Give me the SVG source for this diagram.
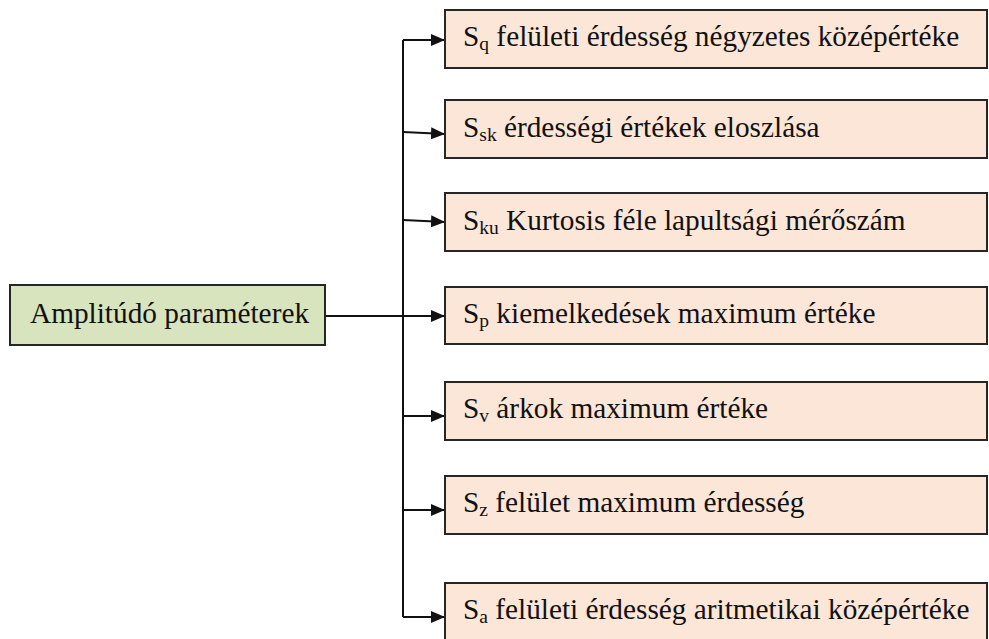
<svg xmlns="http://www.w3.org/2000/svg" width="989" height="639" viewBox="0 0 989 639">
  <style>
    .box { stroke: #262626; stroke-width: 2; }
    .root { fill: #D8E4BD; }
    .leaf { fill: #FBE6D8; }
    .lbl { font-family: "Liberation Serif", "Times New Roman", serif; font-size: 29.3px; fill: #111; }
    .sub { font-size: 19.5px; }
    .wire { fill: none; stroke: #111; stroke-width: 2; }
  </style>
  <defs>
    <marker id="arrow" viewBox="0 0 14 12" refX="14" refY="6" markerWidth="14" markerHeight="12" markerUnits="userSpaceOnUse" orient="auto">
      <path d="M0,0 L14,6 L0,12 Z" fill="#111"/>
    </marker>
  </defs>
  <rect width="989" height="639" fill="#fff"/>

  <!-- connectors -->
  <g id="connectors">
    <path class="wire" d="M403,40 V617"/>
    <path class="wire" d="M325,316 H445" marker-end="url(#arrow)"/>
    <path class="wire" d="M403,40 H445" marker-end="url(#arrow)"/>
    <path class="wire" d="M403,132 L445,134" marker-end="url(#arrow)"/>
    <path class="wire" d="M403,220 L445,222" marker-end="url(#arrow)"/>
    <path class="wire" d="M403,416 H445" marker-end="url(#arrow)"/>
    <path class="wire" d="M403,510 H445" marker-end="url(#arrow)"/>
    <path class="wire" d="M403,617 H445" marker-end="url(#arrow)"/>
  </g>

  <!-- root -->
  <g id="amplitudo">
    <rect class="box root" x="10" y="285" width="315" height="60"/>
    <text class="lbl" x="30" y="323">Amplitúdó paraméterek</text>
  </g>

  <!-- parameters -->
  <g id="sq">
    <rect class="box leaf" x="445" y="10" width="542" height="58"/>
    <text class="lbl" x="463" y="46">S<tspan class="sub" dy="4">q</tspan><tspan dy="-4"> felületi érdesség négyzetes középértéke</tspan></text>
  </g>
  <g id="ssk">
    <rect class="box leaf" x="445" y="100" width="542" height="58"/>
    <text class="lbl" x="463" y="137">S<tspan class="sub" dy="4">sk</tspan><tspan dy="-4"> érdességi értékek eloszlása</tspan></text>
  </g>
  <g id="sku">
    <rect class="box leaf" x="445" y="193" width="542" height="58"/>
    <text class="lbl" x="463" y="230">S<tspan class="sub" dy="4">ku</tspan><tspan dy="-4"> Kurtosis féle lapultsági mérőszám</tspan></text>
  </g>
  <g id="sp">
    <rect class="box leaf" x="445" y="287" width="542" height="57"/>
    <text class="lbl" x="463" y="323">S<tspan class="sub" dy="4">p</tspan><tspan dy="-4"> kiemelkedések maximum értéke</tspan></text>
  </g>
  <g id="sv">
    <rect class="box leaf" x="445" y="382" width="542" height="58"/>
    <text class="lbl" x="463" y="418">S<tspan class="sub" dy="4">v</tspan><tspan dy="-4"> árkok maximum értéke</tspan></text>
  </g>
  <g id="sz">
    <rect class="box leaf" x="445" y="476" width="542" height="58"/>
    <text class="lbl" x="463" y="512">S<tspan class="sub" dy="4">z</tspan><tspan dy="-4"> felület maximum érdesség</tspan></text>
  </g>
  <g id="sa">
    <rect class="box leaf" x="445" y="583" width="542" height="60"/>
    <text class="lbl" x="463" y="619">S<tspan class="sub" dy="4">a</tspan><tspan dy="-4"> felületi érdesség aritmetikai középértéke</tspan></text>
  </g>
</svg>
